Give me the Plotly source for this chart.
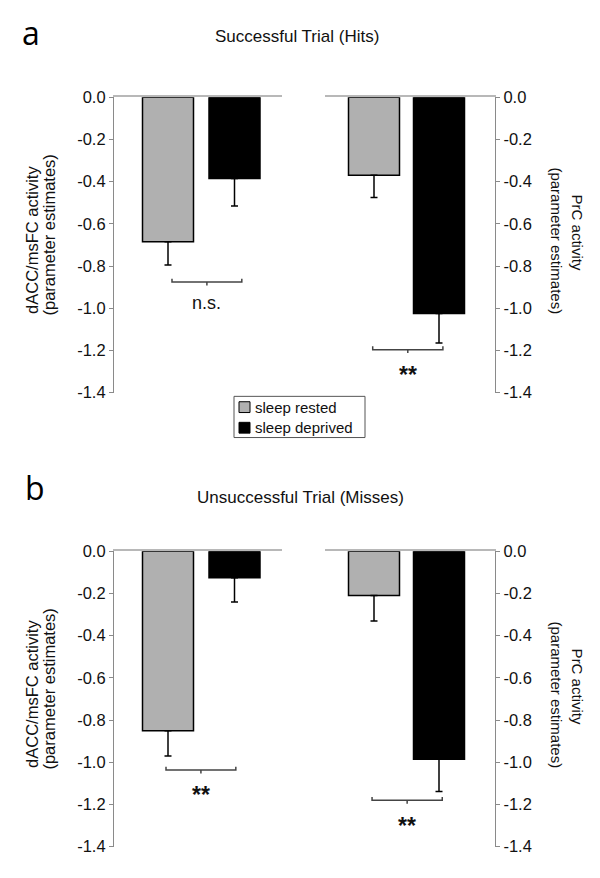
import plotly.graph_objects as go

# ---------------- data ----------------
conditions = ["sleep rested", "sleep deprived"]
cond_colors = ["#b0b0b0", "#000000"]

panel_letters = ["a", "b"]
panel_titles = ["Successful Trial (Hits)", "Unsuccessful Trial (Misses)"]
left_axis_lines = ["dACC/msFC activity", "(parameter estimates)"]
right_axis_lines = ["PrC activity", "(parameter estimates)"]

hits_dacc = [-0.685, -0.385]
hits_dacc_err = [0.11, 0.13]
hits_prc = [-0.37, -1.025]
hits_prc_err = [0.105, 0.14]

misses_dacc = [-0.85, -0.125]
misses_dacc_err = [0.12, 0.115]
misses_prc = [-0.21, -0.985]
misses_prc_err = [0.12, 0.153]

# significance brackets: level, x start, x end (category units), label
bracket_levels = [-0.876, -1.196, -1.037, -1.18]
bracket_x0 = [0.06, -0.02, -0.03, -0.03]
bracket_x1 = [1.11, 1.06, 1.02, 1.05]
bracket_labels = ["n.s.", "**", "**", "**"]

tick_values = [0.0, -0.2, -0.4, -0.6, -0.8, -1.0, -1.2, -1.4]
tick_labels = ["0.0", "-0.2", "-0.4", "-0.6", "-0.8", "-1.0", "-1.2", "-1.4"]

# ---------------- layout helpers (pixels) ----------------
W, H = 600, 878
FONT = "Liberation Sans, Arial, sans-serif"

def fx(p):
    return p / W

def fy(p):
    return 1 - p / H

LEFT_DOM = (114, 282)
RIGHT_DOM = (325, 495)
LEFT_CENTERS = (168, 234.5)
RIGHT_CENTERS = (374, 439)
PANEL_Y = [(90, 392), (553, 855)]
PANEL_SHIFT = [0, 463]
BAR_PX = 51

def xrange_for(dom, centers):
    u = centers[1] - centers[0]
    return [-(centers[0] - dom[0]) / u, 1 + (dom[1] - centers[1]) / u], u

subplots = [
    (0, "left", hits_dacc, hits_dacc_err),
    (0, "right", hits_prc, hits_prc_err),
    (1, "left", misses_dacc, misses_dacc_err),
    (1, "right", misses_prc, misses_prc_err),
]

fig = go.Figure()
layout_axes = {}
annotations = []
shapes = []

for k, (panel, side, vals, errs) in enumerate(subplots, start=1):
    dom = LEFT_DOM if side == "left" else RIGHT_DOM
    centers = LEFT_CENTERS if side == "left" else RIGHT_CENTERS
    xr, unit = xrange_for(dom, centers)
    ytop, ybot = PANEL_Y[panel]
    xa = "x" if k == 1 else f"x{k}"
    ya = "y" if k == 1 else f"y{k}"

    for c, cond in enumerate(conditions):
        fig.add_trace(go.Bar(
            x=[c], y=[vals[c]], name=cond,
            width=BAR_PX / unit,
            marker=dict(color=cond_colors[c], line=dict(color="#000000", width=1.5)),
            error_y=dict(type="data", symmetric=False, array=[0], arrayminus=[errs[c]],
                         color="#000000", thickness=1.5, width=3.5),
            showlegend=False, legendgroup=cond,
            xaxis=xa, yaxis=ya, hoverinfo="skip",
        ))

    # bracket
    b = k - 1
    yl = bracket_levels[b]
    x0, x1 = bracket_x0[b], bracket_x1[b]
    xm = (x0 + x1) / 2
    d = 0.016
    fig.add_trace(go.Scatter(
        x=[x0, x0, x1, x1, None, xm, xm],
        y=[yl + d, yl, yl, yl + d, None, yl, yl - d],
        mode="lines", line=dict(color="#444444", width=1.5),
        showlegend=False, hoverinfo="skip", xaxis=xa, yaxis=ya,
    ))
    lab = bracket_labels[b]
    if lab == "n.s.":
        annotations.append(dict(
            x=xm, y=yl - 0.1, xref=xa, yref=ya, text=lab, showarrow=False,
            font=dict(family=FONT, size=18, color="#111111"),
            xanchor="center", yanchor="middle"))
    else:
        annotations.append(dict(
            x=xm, y=yl - 0.12, xref=xa, yref=ya, text="<b>" + lab + "</b>", showarrow=False,
            font=dict(family=FONT, size=23, color="#111111"),
            xanchor="center", yanchor="middle"))

    layout_axes["xaxis" if k == 1 else f"xaxis{k}"] = dict(
        domain=[fx(dom[0]), fx(dom[1])], range=xr, anchor=ya, side="top",
        showline=True, linecolor="#b8b8b8", linewidth=1.5,
        showticklabels=False, ticks="", showgrid=False, zeroline=False, fixedrange=True,
    )
    layout_axes["yaxis" if k == 1 else f"yaxis{k}"] = dict(
        domain=[fy(ybot), fy(ytop)], range=[-1.4035, 0], anchor=xa, side=side,
        showline=True, linecolor="#8a8a8a", linewidth=1.2,
        ticks="outside", ticklen=4, tickcolor="#8a8a8a", tickwidth=1,
        tickvals=tick_values, ticktext=tick_labels,
        tickfont=dict(family=FONT, size=16.5, color="#111111"),
        showgrid=False, zeroline=False, fixedrange=True,
    )

# panel letters, titles, axis titles
for panel in range(2):
    s = PANEL_SHIFT[panel]
    annotations.append(dict(x=fx(31 if panel == 0 else 35), y=fy(24 if panel == 0 else 488),
                            xref="paper", yref="paper",
                            text=panel_letters[panel], showarrow=False,
                            font=dict(family="Open Sans, DejaVu Sans, sans-serif", size=32, color="#000000"),
                            xanchor="center", yanchor="middle"))
    annotations.append(dict(x=fx(297 if panel == 0 else 300), y=fy(28 + (470 if panel else 0)),
                            xref="paper", yref="paper",
                            text=panel_titles[panel], showarrow=False,
                            font=dict(family=FONT, size=17, color="#111111"),
                            xanchor="center", yanchor="middle"))
    # left axis title (reads bottom to top)
    annotations.append(dict(x=fx(32.5), y=fy(236 + s), xref="paper", yref="paper",
                            text=left_axis_lines[0], showarrow=False, textangle=-90,
                            font=dict(family=FONT, size=16.5, color="#111111"),
                            xanchor="center", yanchor="middle"))
    annotations.append(dict(x=fx(49), y=fy(231 + s), xref="paper", yref="paper",
                            text=left_axis_lines[1], showarrow=False, textangle=-90,
                            font=dict(family=FONT, size=16.5, color="#111111"),
                            xanchor="center", yanchor="middle"))
    # right axis title (reads top to bottom)
    annotations.append(dict(x=fx(577), y=fy(228 + s), xref="paper", yref="paper",
                            text=right_axis_lines[0], showarrow=False, textangle=90,
                            font=dict(family=FONT, size=15, color="#111111"),
                            xanchor="center", yanchor="middle"))
    annotations.append(dict(x=fx(557), y=fy(236 + s), xref="paper", yref="paper",
                            text=right_axis_lines[1], showarrow=False, textangle=90,
                            font=dict(family=FONT, size=15, color="#111111"),
                            xanchor="center", yanchor="middle"))

# legend box (drawn to match the compact original legend)
shapes.append(dict(type="rect", xref="paper", yref="paper",
                   x0=fx(234), x1=fx(365), y0=fy(437), y1=fy(395),
                   line=dict(color="#555555", width=1), fillcolor="white", layer="below"))
legend_rows = [406, 427]
for c, cond in enumerate(conditions):
    yc = legend_rows[c]
    shapes.append(dict(type="rect", xref="paper", yref="paper",
                       x0=fx(239), x1=fx(250), y0=fy(yc + 5.5), y1=fy(yc - 5.5),
                       line=dict(color="#000000", width=1), fillcolor=cond_colors[c]))
    annotations.append(dict(x=fx(252.5), y=fy(yc), xref="paper", yref="paper",
                            text=cond, showarrow=False,
                            font=dict(family=FONT, size=15, color="#111111"),
                            xanchor="left", yanchor="middle"))

fig.update_layout(
    width=W, height=H,
    margin=dict(l=0, r=0, t=0, b=0),
    paper_bgcolor="white", plot_bgcolor="white",
    barmode="overlay",
    showlegend=False,
    font=dict(family=FONT, size=16, color="#111111"),
    annotations=annotations,
    shapes=shapes,
    **layout_axes,
)

fig.write_html("out.html", config={"displayModeBar": False},
               post_script="document.body.style.margin='0px';")
